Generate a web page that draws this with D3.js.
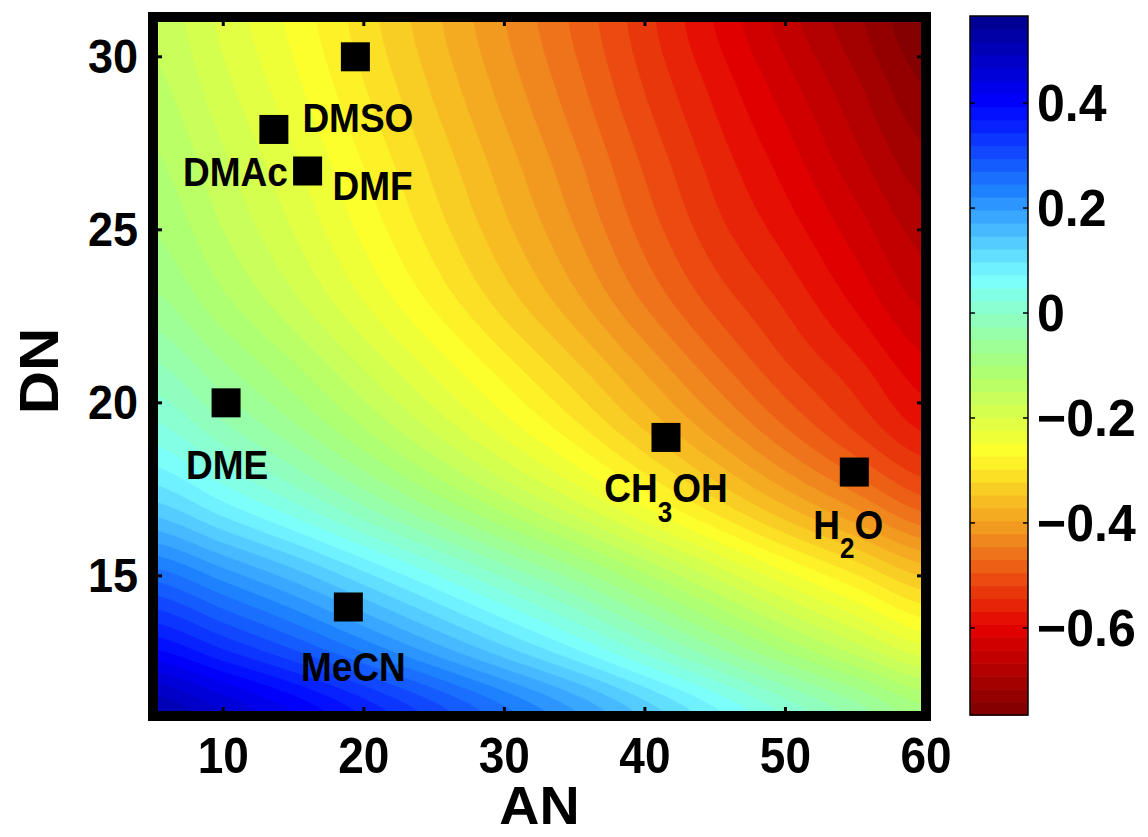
<!DOCTYPE html>
<html><head><meta charset="utf-8">
<script src="https://cdn.jsdelivr.net/npm/d3@7"></script>
<style>
body{margin:0;background:#fff}
svg{display:block}
text{font-family:"Liberation Sans",Arial,Helvetica,sans-serif;font-weight:bold;fill:#000}
</style>
</head><body>
<svg id="chart" width="1148" height="837"></svg>
<script>
// ---------------- data ----------------
const gridAN = [5,10,15,20,25,30,35,40,45,50,55,60];
const gridDN = [11,13,15,17,19,21,23,25,27,29,31];
// field values, one row per DN (ascending), one column per AN (ascending)
const row11 = [0.52,0.47,0.42,0.365,0.31,0.255,0.20,0.14,0.08,0.02,-0.035,-0.09];
const row13 = [0.385,0.335,0.285,0.23,0.175,0.12,0.065,0.005,-0.055,-0.115,-0.17,-0.225];
const row15 = [0.26,0.21,0.16,0.105,0.05,-0.005,-0.06,-0.12,-0.18,-0.24,-0.295,-0.35];
const row17 = [0.13,0.08,0.03,-0.025,-0.08,-0.135,-0.19,-0.25,-0.31,-0.37,-0.425,-0.48];
const row19 = [0.04,-0.01,-0.06,-0.115,-0.17,-0.225,-0.28,-0.34,-0.40,-0.46,-0.515,-0.565];
const row21 = [-0.02,-0.07,-0.12,-0.175,-0.23,-0.285,-0.34,-0.40,-0.46,-0.515,-0.56,-0.61];
const row23 = [-0.07,-0.12,-0.17,-0.225,-0.28,-0.335,-0.39,-0.45,-0.505,-0.55,-0.60,-0.65];
const row25 = [-0.10,-0.15,-0.20,-0.255,-0.31,-0.365,-0.42,-0.48,-0.535,-0.58,-0.63,-0.68];
const row27 = [-0.12,-0.17,-0.22,-0.275,-0.33,-0.385,-0.44,-0.50,-0.555,-0.605,-0.66,-0.71];
const row29 = [-0.14,-0.19,-0.24,-0.295,-0.35,-0.405,-0.46,-0.52,-0.575,-0.63,-0.685,-0.74];
const row31 = [-0.155,-0.205,-0.255,-0.31,-0.365,-0.42,-0.475,-0.535,-0.595,-0.655,-0.71,-0.765];
const fieldRows = [row11,row13,row15,row17,row19,row21,row23,row25,row27,row29,row31];

const solventNames = ["DMSO","DMAc","DMF","DME","MeCN","CH3OH","H2O"];
const solventAN = [19.4,13.6,16.0,10.2,18.9,41.5,54.9];
const solventDN = [30.0,27.9,26.7,20.0,14.1,19.0,18.0];

const xTicks = [10,20,30,40,50,60];
const yTicks = [15,20,25,30];
const cbTicks = [0.4,0.2,0,-0.2,-0.4,-0.6];
const cbRange = [-0.766,0.566];
const xLabel = "AN", yLabel = "DN";

// colormap (jet-like, reversed)
const colorStopValues = [-0.766,-0.60,-0.433,-0.266,-0.10,0.067,0.233,0.40,0.566];
const colorStopColors = ["#7d0000","#e40000","#f0871e","#ffff28","#a8ff78","#7affff","#1e82ff","#0000ff","#00008c"];

// ---------------- layout ----------------
const L = 153, R = 926, T = 17, B = 716;
const svg = d3.select("#chart");
const x = d3.scaleLinear().domain([5,60]).range([L,R]);
const y = d3.scaleLinear().domain([10.95,31.15]).range([B,T]);
const color = d3.scaleLinear().domain(colorStopValues).range(colorStopColors)
  .interpolate(d3.interpolateRgb).clamp(true);

// Catmull-Rom interpolation of the read grid (for smooth rendering only)
function cr(p0,p1,p2,p3,t){
  return 0.5*((2*p1)+(-p0+p2)*t+(2*p0-5*p1+4*p2-p3)*t*t+(-p0+3*p1-3*p2+p3)*t*t*t);
}
function sample(an, dn){
  const nI = gridAN.length, nJ = gridDN.length;
  let fi = (an-gridAN[0])/(gridAN[1]-gridAN[0]);
  let fj = (dn-gridDN[0])/(gridDN[1]-gridDN[0]);
  fi = Math.max(0, Math.min(nI-1, fi));
  fj = Math.max(0, Math.min(nJ-1, fj));
  const i0 = Math.min(nI-2, Math.floor(fi)), j0 = Math.min(nJ-2, Math.floor(fj));
  const ti = fi-i0, tj = fj-j0;
  const ci = k => Math.max(0, Math.min(nI-1, k));
  const cj = k => Math.max(0, Math.min(nJ-1, k));
  const rowVal = j => {
    const r = fieldRows[cj(j)];
    return cr(r[ci(i0-1)], r[ci(i0)], r[ci(i0+1)], r[ci(i0+2)], ti);
  };
  return cr(rowVal(j0-1), rowVal(j0), rowVal(j0+1), rowVal(j0+2), tj);
}

const step = 2;
const nx = Math.ceil((R-L)/step)+2, ny = Math.ceil((B-T)/step)+2;
const values = new Float64Array(nx*ny);
for (let j=0;j<ny;j++){
  const dn = y.invert(T + j*step);
  for (let i=0;i<nx;i++){
    values[j*nx+i] = sample(x.invert(L + i*step), dn);
  }
}
const nLevels = 54;
const lvStep = (cbRange[1]-cbRange[0])/nLevels;
const thresholds = d3.range(nLevels).map(k => cbRange[0] + k*lvStep);
const contours = d3.contours().size([nx,ny]).thresholds(thresholds)(values);
const path = d3.geoPath(d3.geoIdentity().scale(step).translate([L - step/2, T - step/2]));

svg.append("defs").append("clipPath").attr("id","plotclip")
  .append("rect").attr("x",L).attr("y",T).attr("width",R-L).attr("height",B-T);

const field = svg.append("g").attr("clip-path","url(#plotclip)");
field.append("rect").attr("x",L).attr("y",T).attr("width",R-L).attr("height",B-T)
  .attr("fill", color(cbRange[0]+lvStep/2));
field.selectAll("path.band").data(contours).join("path")
  .attr("class","band")
  .attr("d", path)
  .attr("fill", d => color(d.value + lvStep/2))
  .attr("stroke", d => color(d.value + lvStep/2))
  .attr("stroke-width", 0.6);

// markers
const sq = 29;
svg.append("g").selectAll("rect").data(solventNames).join("rect")
  .attr("x", (d,i) => x(solventAN[i]) - sq/2)
  .attr("y", (d,i) => y(solventDN[i]) - sq/2)
  .attr("width", sq).attr("height", sq).attr("fill","#000");

// solvent labels: [dx, dy, anchor] offsets from marker centre
const labelOffsets = [[-53,75,"start"],[14,56.5,"end"],[25,29.5,"start"],[1,76,"middle"],[5,74.5,"middle"],[0,65,"middle"],[-6,66.5,"middle"]];
const lg = svg.append("g");
solventNames.forEach((name,i) => {
  const [dx,dy,anchor] = labelOffsets[i];
  const t = lg.append("text")
    .attr("transform", `translate(${x(solventAN[i])+dx},${y(solventDN[i])+dy}) scale(1,1.1)`)
    .attr("text-anchor", anchor).style("font-size","37px");
  const parts = name.match(/[A-Za-z]+|[0-9]+/g);
  let shifted = false;
  parts.forEach(p => {
    if (/^[0-9]+$/.test(p)) {
      t.append("tspan").attr("dy", 18).style("font-size","26px").text(p);
      shifted = true;
    } else {
      const ts = t.append("tspan").text(p);
      if (shifted) { ts.attr("dy", -18); shifted = false; }
    }
  });
});

// frame
svg.append("rect").attr("x",L).attr("y",T).attr("width",R-L).attr("height",B-T)
  .attr("fill","none").attr("stroke","#000").attr("stroke-width",10);
const tk = svg.append("g").attr("stroke","#000").attr("stroke-width",3);
xTicks.forEach(v => {
  if (x(v) > R-6) return;
  tk.append("line").attr("x1",x(v)).attr("x2",x(v)).attr("y1",B).attr("y2",B-9);
  tk.append("line").attr("x1",x(v)).attr("x2",x(v)).attr("y1",T).attr("y2",T+9);
});
yTicks.forEach(v => {
  tk.append("line").attr("y1",y(v)).attr("y2",y(v)).attr("x1",L).attr("x2",L+9);
  tk.append("line").attr("y1",y(v)).attr("y2",y(v)).attr("x1",R).attr("x2",R-9);
});

// tick labels
const axg = svg.append("g");
xTicks.forEach(v => {
  axg.append("text").attr("transform",`translate(${x(v)},773) scale(1,1.1)`)
    .attr("text-anchor","middle").style("font-size","46px").text(v);
});
yTicks.forEach(v => {
  axg.append("text").attr("transform",`translate(138,${y(v)+16}) scale(1,1.08)`)
    .attr("text-anchor","end").style("font-size","45px").text(v);
});
axg.append("text").attr("transform",`translate(${(L+R)/2},824) scale(1.05,1)`)
  .attr("text-anchor","middle").style("font-size","53px").text(xLabel);
axg.append("text").attr("transform",`translate(58,371) rotate(-90) scale(1.07,1)`)
  .attr("text-anchor","middle").style("font-size","56px").text(yLabel);

// colorbar
const cbL = 970, cbW = 58;
const cy = d3.scaleLinear().domain(cbRange).range([715,16]);
const cbg = svg.append("g");
thresholds.forEach(t => {
  cbg.append("rect").attr("x",cbL).attr("width",cbW)
    .attr("y", cy(t+lvStep)).attr("height", cy(t)-cy(t+lvStep)+0.6)
    .attr("fill", color(t+lvStep/2));
});
cbg.append("rect").attr("x",cbL).attr("y",16).attr("width",cbW).attr("height",699)
  .attr("fill","none").attr("stroke","#000").attr("stroke-width",1.5);
cbTicks.forEach(v => {
  cbg.append("line").attr("x1",cbL).attr("x2",cbL+5).attr("y1",cy(v)).attr("y2",cy(v)).attr("stroke","#000").attr("stroke-width",1.5);
  cbg.append("line").attr("x1",cbL+cbW).attr("x2",cbL+cbW-5).attr("y1",cy(v)).attr("y2",cy(v)).attr("stroke","#000").attr("stroke-width",1.5);
  const lab = v === 0 ? "0" : (v < 0 ? "\u2212" + Math.abs(v).toFixed(1) : v.toFixed(1));
  cbg.append("text").attr("transform",`translate(1037,${cy(v)+18}) scale(1,1.04)`)
    .attr("text-anchor","start").style("font-size","50px").text(lab);
});
</script>
</body></html>
